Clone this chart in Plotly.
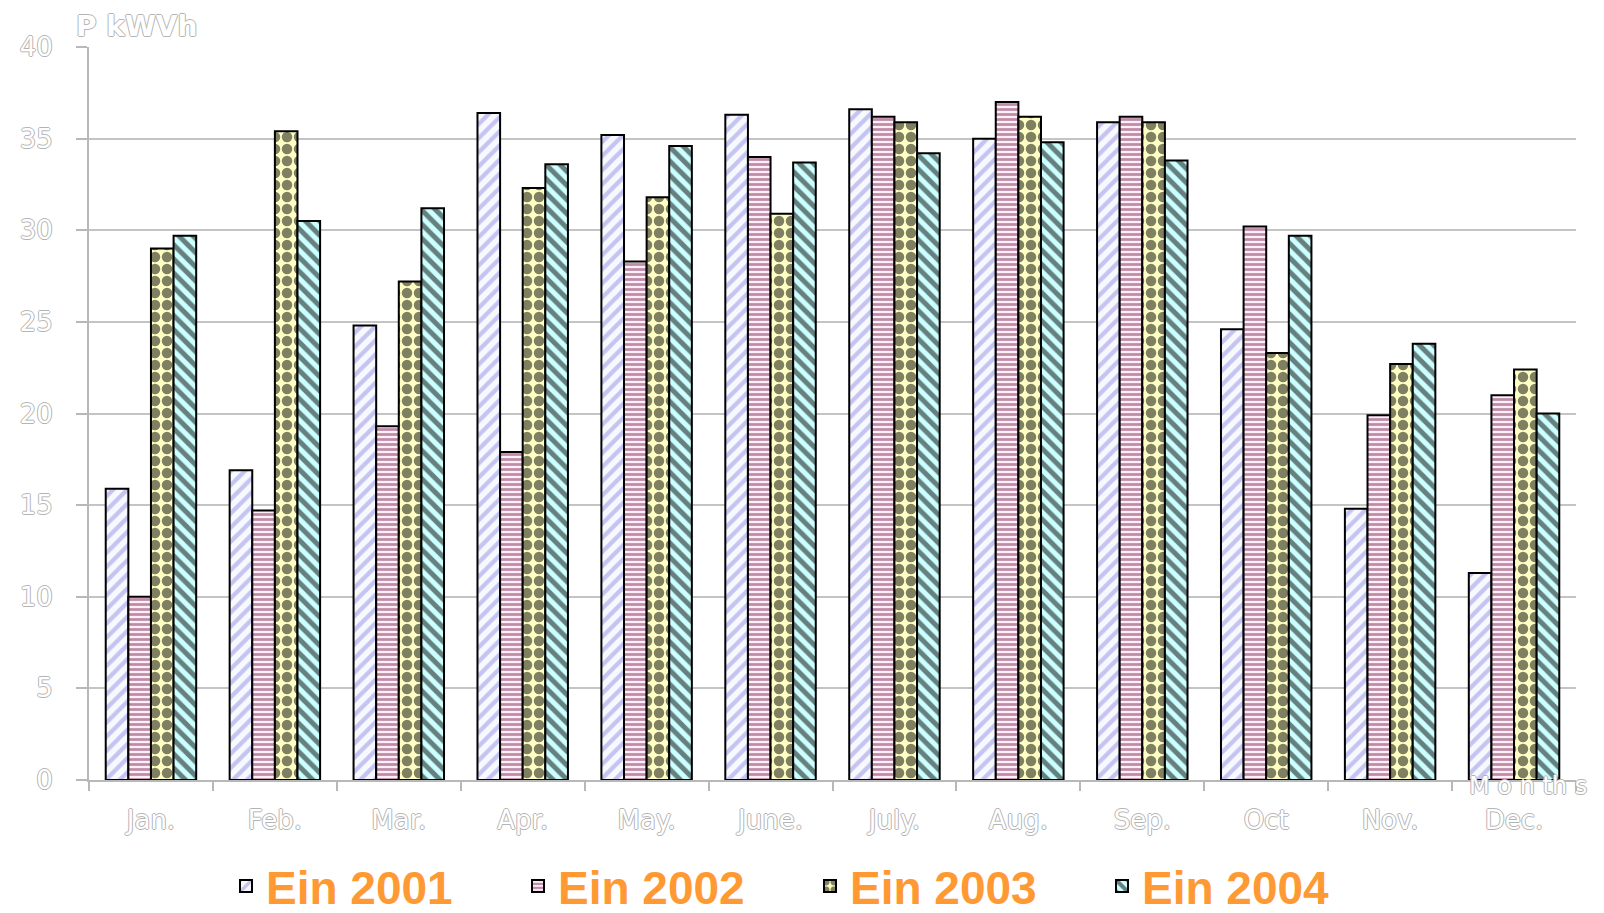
import plotly.graph_objects as go

months = ["Jan.", "Feb.", "Mar.", "Apr.", "May.", "June.", "July.", "Aug.", "Sep.", "Oct", "Nov.", "Dec."]
ein_2001 = [15.9, 16.9, 24.8, 36.4, 35.2, 36.3, 36.6, 35.0, 35.9, 24.6, 14.8, 11.3]
ein_2002 = [10.0, 14.7, 19.3, 17.9, 28.3, 34.0, 36.2, 37.0, 36.2, 30.2, 19.9, 21.0]
ein_2003 = [29.0, 35.4, 27.2, 32.3, 31.8, 30.9, 35.9, 36.2, 35.9, 23.3, 22.7, 22.4]
ein_2004 = [29.7, 30.5, 31.2, 33.6, 34.6, 33.7, 34.2, 34.8, 33.8, 29.7, 23.8, 20.0]
series_names = ["Ein 2001", "Ein 2002", "Ein 2003", "Ein 2004"]
y_ticks = [0, 5, 10, 15, 20, 25, 30, 35, 40]

oc = "#b4b4b4"
outline = f"1px 0 0 {oc}, -1px 0 0 {oc}, 0 1px 0 {oc}, 0 -1px 0 {oc}"
gfont = dict(family="DejaVu Sans, Liberation Sans", size=26, color="white", shadow=outline)

styles = [
    dict(shape="/", bg="#f8f8ff", fg="#9090e2", size=10, sol=0.42),
    dict(shape="-", bg="#fff0f8", fg="#7e2556", size=5, sol=0.55),
    dict(shape=".", bg="#ffffc4", fg="#000000", size=12, sol=0.6),
    dict(shape="\\", bg="#ccffff", fg="#000000", size=10, sol=0.5),
]

fig = go.Figure()
for name, vals, st in zip(series_names, [ein_2001, ein_2002, ein_2003, ein_2004], styles):
    fig.add_trace(go.Bar(
        x=months, y=vals, name=name,
        marker=dict(
            color=st["bg"],
            line=dict(color="#000000", width=2),
            pattern=dict(shape=st["shape"], bgcolor=st["bg"], fgcolor=st["fg"],
                         size=st["size"], solidity=st["sol"], fillmode="overlay"),
        ),
    ))

fig.update_layout(
    width=1604, height=913,
    margin=dict(l=81, r=36, t=39, b=141, autoexpand=False),
    paper_bgcolor="white", plot_bgcolor="white",
    barmode="group", bargap=0.27, bargroupgap=0.0,
    font=gfont,
    xaxis=dict(
        type="category", tickson="boundaries", ticks="outside", ticklen=9,
        tickcolor="#b8b8b8", tickwidth=2,
        showline=True, linecolor="#b8b8b8", linewidth=2,
        showgrid=False, ticklabelstandoff=16,
        tickfont=gfont,
    ),
    yaxis=dict(
        range=[0, 40], tickvals=y_ticks, ticks="outside", ticklen=11,
        tickcolor="#b8b8b8", tickwidth=2,
        showline=True, linecolor="#b8b8b8", linewidth=2,
        showgrid=True, gridcolor="#c4c4c4", gridwidth=2,
        zeroline=False, ticklabelstandoff=18,
        tickfont=gfont,
    ),
    legend=dict(
        orientation="h", xref="container", yref="container",
        x=218 / 1604, xanchor="left", y=1 - 878 / 913, yanchor="middle",
        font=dict(family="Liberation Sans, Arial", size=46, color="#ff9933", weight="bold", shadow="none"),
        entrywidth=247, entrywidthmode="pixels", itemwidth=30,
        bgcolor="rgba(0,0,0,0)",
    ),
    annotations=[
        dict(text="P kWVh", xref="paper", yref="paper", x=-0.01, y=1.028, xanchor="left", yanchor="middle",
             showarrow=False,
             font=dict(family="DejaVu Sans, Liberation Sans", size=28, color="white", weight="bold", shadow=outline)),
        dict(text="M o n th s", xref="paper", yref="paper", x=1.009, y=-0.030, xanchor="right", yanchor="bottom",
             showarrow=False, font=dict(family="DejaVu Sans, Liberation Sans", size=24, color="white", shadow=outline)),
    ],
)

fig.write_html("out.html")
